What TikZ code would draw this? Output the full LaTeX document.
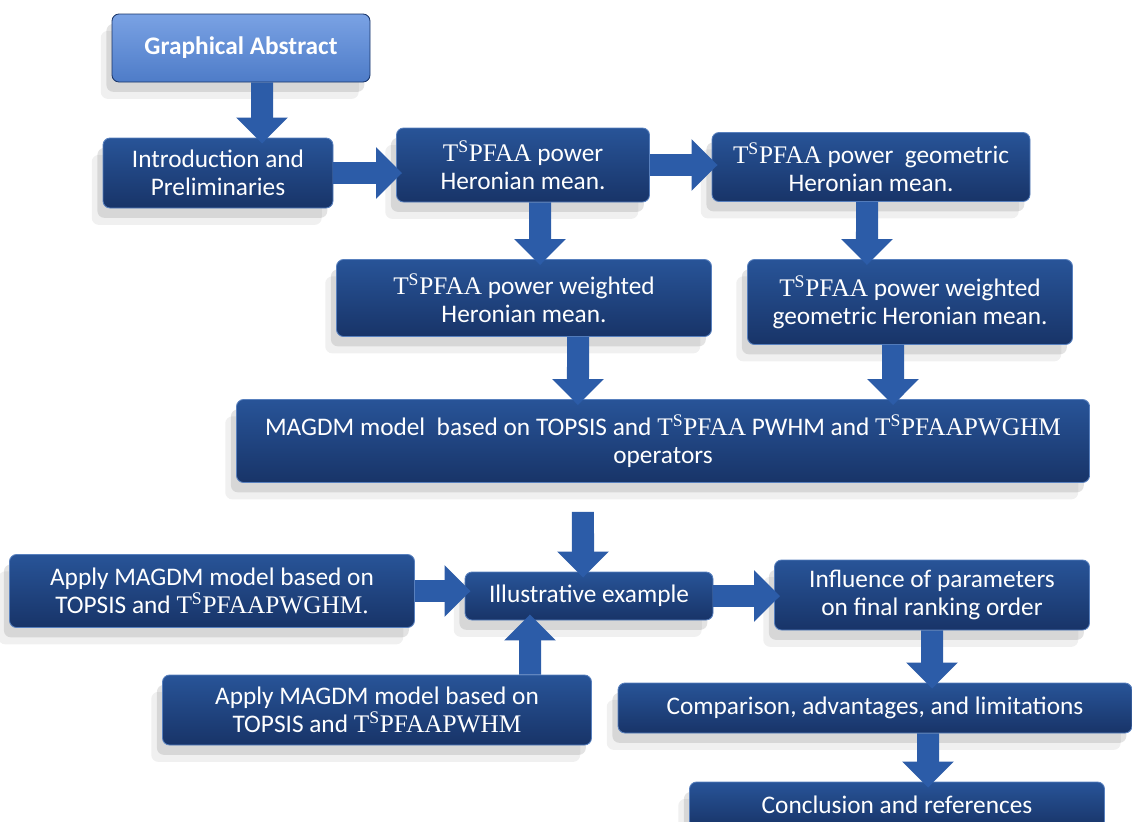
\documentclass[tikz,border=0pt]{standalone}
\usepackage{fontspec}
\setmainfont{Carlito}
\newfontfamily\tsfont{Liberation Serif}
\usetikzlibrary{arrows.meta, shadows}

\definecolor{boxtop}{RGB}{40,84,152}
\definecolor{boxbot}{RGB}{24,52,104}
\definecolor{boxedge}{RGB}{88,128,190}
\definecolor{gatop}{RGB}{122,162,228}
\definecolor{gabot}{RGB}{78,124,200}
\definecolor{arrowblue}{RGB}{44,92,168}

\newlength{\unitpx}
\setlength{\unitpx}{0.025cm}
\newcommand{\tspf}{{\tsfont T\textsuperscript{S}PFAA}}

\begin{document}
\begin{tikzpicture}[
    x=0.025cm, y=-0.025cm,
    box/.style={rectangle, rounded corners=5pt, draw=boxedge, line width=0.6pt,
                top color=boxtop, bottom color=boxbot, text=white, align=center,
                font=\fontsize{18}{20}\selectfont, inner sep=2pt,
                drop shadow={shadow xshift=-8pt, shadow yshift=-12pt, opacity=0.12},
                drop shadow={shadow xshift=-4pt, shadow yshift=-7pt, opacity=0.22}},
    gabox/.style={box, top color=gatop, bottom color=gabot, draw=boxbot,
                  font=\fontsize{18}{20}\selectfont\bfseries},
    fat/.style={-{Triangle[length=0.65cm, width=1.25cm]}, draw=arrowblue,
                line width=0.55cm, shorten >=-0.15cm}
]
  \clip (0,0) rectangle (1132,822);

  % top part: operators
  \node[gabox, minimum width=258\unitpx, minimum height=68\unitpx] (ga) at (241,48) {Graphical Abstract};
  \node[box, minimum width=230\unitpx, minimum height=70\unitpx] (intro) at (218,173) {Introduction and\\Preliminaries};
  \node[box, minimum width=253\unitpx, minimum height=74\unitpx] (phm) at (523,165) {\tspf{} power\\Heronian mean.};
  \node[box, minimum width=318\unitpx, minimum height=69\unitpx] (pghm) at (871,167) {\tspf{} power\ \ geometric\\Heronian mean.};
  \node[box, minimum width=375\unitpx, minimum height=77\unitpx] (pwhm) at (524,298) {\tspf{} power weighted\\Heronian mean.};
  \node[box, minimum width=325\unitpx, minimum height=85\unitpx] (pwghm) at (910,302) {\tspf{} power weighted\\geometric Heronian mean.};
  \node[box, minimum width=853\unitpx, minimum height=83\unitpx] (magdm) at (663,441)
    {MAGDM model\ \ based on TOPSIS and \tspf{} PWHM and {\tsfont T\textsuperscript{S}PFAAPWGHM}\\operators};

  % bottom part: application
  \node[box, minimum width=405\unitpx, minimum height=73\unitpx] (apwghm) at (212,591) {Apply MAGDM model based on\\TOPSIS and {\tsfont T\textsuperscript{S}PFAAPWGHM.}};
  \node[box, minimum width=248\unitpx, minimum height=48\unitpx] (illus) at (589,596) {Illustrative example};
  \node[box, minimum width=315\unitpx, minimum height=70\unitpx] (infl) at (932,595) {Influence of parameters\\on final ranking order};
  \node[box, minimum width=429\unitpx, minimum height=70\unitpx] (apwhm) at (377,710) {Apply MAGDM model based on\\TOPSIS and {\tsfont T\textsuperscript{S}PFAAPWHM}};
  \node[box, minimum width=514\unitpx, minimum height=50\unitpx] (comp) at (875,708) {Comparison, advantages, and limitations};
  \node[box, minimum width=415\unitpx, minimum height=46\unitpx] (concl) at (897,805) {Conclusion and references};

  % block arrows
  \draw[fat] ([xshift=0.525cm]ga.south) -- ([xshift=1.1cm]intro.north);
  \draw[fat] (intro.east) -- (intro.east -| phm.west);
  \draw[fat] (phm.east) -- (phm.east -| pghm.west);
  \draw[fat] ([xshift=0.425cm]phm.south) -- ([xshift=0.4cm]pwhm.north);
  \draw[fat] ([xshift=-0.1cm]pghm.south) -- ([xshift=-1.075cm]pwghm.north);
  \draw[fat] ([xshift=1.35cm]pwhm.south) -- ([xshift=-2.125cm]magdm.north);
  \draw[fat] ([xshift=-0.425cm]pwghm.south) -- ([xshift=5.75cm]magdm.north);
  \draw[fat, shorten <=0.725cm] ([xshift=-2cm]magdm.south) -- ([xshift=-0.15cm]illus.north);
  \draw[fat] (apwghm.east) -- (apwghm.east -| illus.west);
  \draw[fat] ([xshift=3.825cm]apwhm.north) -- ([xshift=-1.475cm]illus.south);
  \draw[fat] (illus.east) -- (illus.east -| infl.west);
  \draw[fat] (infl.south) -- ([xshift=1.425cm]comp.north);
  \draw[fat] ([xshift=1.325cm]comp.south) -- ([xshift=0.775cm]concl.north);
\end{tikzpicture}
\end{document}
